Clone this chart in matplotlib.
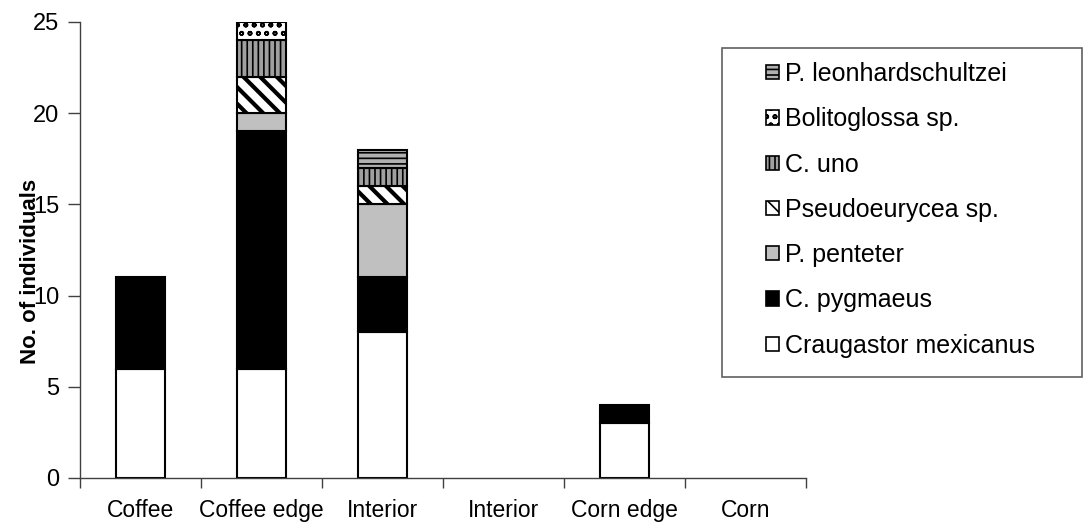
import matplotlib
matplotlib.use('Agg')
import matplotlib.pyplot as plt
from matplotlib.patches import Rectangle, Patch
import numpy as np

# data
sites = ['Coffee', 'Coffee edge', 'Interior', 'Interior', 'Corn edge', 'Corn']
species = ['Craugastor mexicanus', 'C. pygmaeus', 'P. penteter', 'Pseudoeurycea sp.',
           'C. uno', 'Bolitoglossa sp.', 'P. leonhardschultzei']
craugastor = [6, 6, 8, 0, 3, 0]
pygmaeus = [5, 13, 3, 0, 1, 0]
penteter = [0, 1, 4, 0, 0, 0]
pseudoeurycea = [0, 2, 1, 0, 0, 0]
uno = [0, 2, 1, 0, 0, 0]
bolitoglossa = [0, 1, 0, 0, 0, 0]
leonhardschultzei = [0, 0, 1, 0, 0, 0]
counts = [craugastor, pygmaeus, penteter, pseudoeurycea, uno, bolitoglossa, leonhardschultzei]

faces = ['white', 'black', '#c0c0c0', 'white', '#a0a0a0', 'white', '#b0b0b0']
hatches = [None, None, None, '\\\\', '|||', 'oo', '---']

plt.rcParams['font.family'] = ['Liberation Sans', 'DejaVu Sans']
plt.rcParams['hatch.linewidth'] = 1.2

fig = plt.figure(figsize=(10.88, 5.28), dpi=100)
ax = fig.add_axes([80/1088, 50/528, 726/1088, 456/528])

x = np.arange(len(sites))
bottom = np.zeros(len(sites))
handles = []
for vals, name, fc, h in zip(counts, species, faces, hatches):
    bars = ax.bar(x, vals, 0.4, bottom=bottom, color=fc, edgecolor='black',
                  linewidth=1.5, hatch=h)
    for b, v in zip(bars, vals):
        if v == 0:
            b.set_visible(False)
        if h == '\\\\':
            b.set_hatch_linewidth(3.0)
    handles.append(Patch(facecolor=fc, edgecolor='black', hatch=h, linewidth=1.2, label=name))
    bottom += np.array(vals)

ax.set_xlim(-0.5, len(sites) - 0.5)
ax.set_ylim(0, 25)
ax.set_yticks([0, 5, 10, 15, 20, 25])
ax.set_xticks(np.arange(len(sites) + 1) - 0.5)
ax.set_xticklabels([])
ax.set_xticks(x, minor=True)
ax.set_xticklabels(sites, minor=True, fontsize=16.5)
ax.tick_params(axis='x', which='minor', length=0, pad=15)
ax.tick_params(axis='x', which='major', length=7, width=1, color='#404040')
ax.tick_params(axis='y', length=9, width=1, color='#404040', labelsize=17, pad=6)
for s in ['top', 'right']:
    ax.spines[s].set_visible(False)
for s in ['left', 'bottom']:
    ax.spines[s].set_color('#404040')
    ax.spines[s].set_linewidth(1)

ax.set_ylabel('No. of individuals', fontsize=16, fontweight='bold')
ax.yaxis.set_label_coords(-0.054, 0.454)

# legend box drawn by hand, legend itself without frame
fig.patches.append(Rectangle((722/1088, 1 - 377/528), 360/1088, 329/528,
                             transform=fig.transFigure, fill=False,
                             edgecolor='#606060', linewidth=1.2))
leg = fig.legend(handles[::-1], species[::-1], loc='upper left',
                 bbox_to_anchor=(766/1088, 1 - 62/528), fontsize=18,
                 frameon=False, handlelength=0.5, handleheight=0.5,
                 handletextpad=0.25, labelspacing=0.85, borderpad=0,
                 borderaxespad=0)

fig.savefig('out.png', dpi=100)
